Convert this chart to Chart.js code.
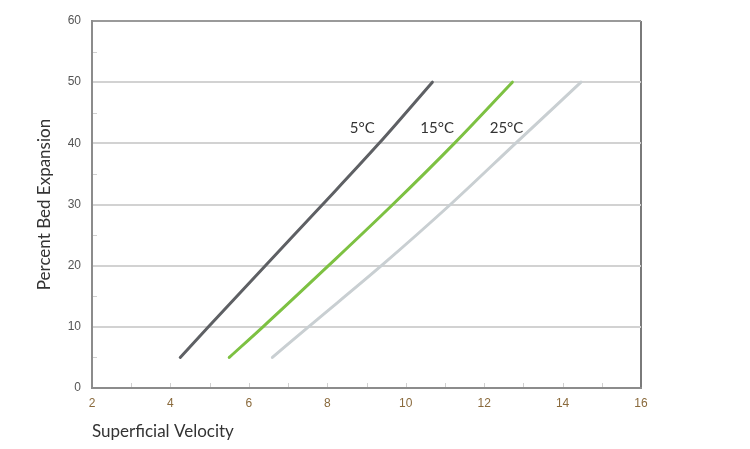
<!DOCTYPE html>
<html>
<head>
<meta charset="utf-8">
<script src="https://cdn.jsdelivr.net/npm/chart.js@4/dist/chart.umd.min.js"></script>
<style>
  html, body { margin: 0; padding: 0; background: #ffffff; }
  #c { display: block; }
</style>
</head>
<body>
<canvas id="c" width="750" height="449"></canvas>
<script>
// ---- Data ----
const expansion = [5, 10, 20, 30, 40, 50];          // Percent Bed Expansion (y)
const velocity5C  = [4.25, 4.97, 6.42, 7.88, 9.32, 10.68];
const velocity15C = [5.50, 6.36, 8.03, 9.67, 11.24, 12.72];
const velocity25C = [6.60, 7.52, 9.38, 11.14, 12.80, 14.47];
const seriesNames = ['5°C', '15°C', '25°C'];
const xTicks = [2, 4, 6, 8, 10, 12, 14, 16];
const yTicks = [0, 10, 20, 30, 40, 50, 60];
// label anchor positions in data units
const labelX = [8.89, 10.8, 12.57];
const labelY = [42.4, 42.4, 42.4];

function pts(xs) { return xs.map((x, i) => ({ x: x, y: expansion[i] })); }

const colors = ['#5e6064', '#7dc142', '#c9cfd2'];

const labelPlugin = {
  id: 'extras',
  afterDraw(chart) {
    const ctx = chart.ctx;
    const xs = chart.scales.x, ys = chart.scales.y;
    const area = chart.chartArea;
    ctx.save();
    // minor ticks
    ctx.strokeStyle = '#d0d0d0';
    ctx.lineWidth = 1;
    for (let v = 3; v < 16; v++) {
      const px = Math.round(xs.getPixelForValue(v)) + 0.5;
      ctx.beginPath();
      ctx.moveTo(px, area.bottom - 1);
      ctx.lineTo(px, area.bottom - 5);
      ctx.stroke();
    }
    for (let v = 5; v < 60; v += 10) {
      const py = Math.round(ys.getPixelForValue(v)) + 0.5;
      ctx.beginPath();
      ctx.moveTo(area.left + 1, py);
      ctx.lineTo(area.left + 5, py);
      ctx.stroke();
    }
    // series labels
    ctx.fillStyle = '#333333';
    ctx.font = '15px Lato, "Open Sans", sans-serif';
    ctx.textAlign = 'center';
    ctx.textBaseline = 'middle';
    seriesNames.forEach((n, i) => {
      ctx.fillText(n, xs.getPixelForValue(labelX[i]), ys.getPixelForValue(labelY[i]));
    });
    ctx.restore();
  }
};

new Chart(document.getElementById('c'), {
  type: 'line',
  data: {
    datasets: [
      { label: seriesNames[0], data: pts(velocity5C),  borderColor: colors[0] },
      { label: seriesNames[1], data: pts(velocity15C), borderColor: colors[1] },
      { label: seriesNames[2], data: pts(velocity25C), borderColor: colors[2] }
    ].map(d => Object.assign(d, { borderWidth: 3, pointRadius: 0, cubicInterpolationMode: 'monotone', fill: false, borderCapStyle: 'round' }))
  },
  options: {
    responsive: false,
    animation: false,
    layout: { padding: { left: 34, right: 109, top: 21, bottom: 7 } },
    plugins: { legend: { display: false }, tooltip: { enabled: false } },
    scales: {
      x: {
        type: 'linear',
        min: 2, max: 16,
        afterBuildTicks(s) { s.ticks = xTicks.map(v => ({ value: v })); },
        afterFit(s) { s.height = 54; },
        ticks: { color: '#8a6a3c', font: { family: '"Liberation Sans", Arial, sans-serif', size: 12 }, padding: 8 },
        grid: {
          drawTicks: false,
          color: (c) => c.tick && c.tick.value === 16 ? '#7a7a7a' : 'rgba(0,0,0,0)',
          lineWidth: 2
        },
        border: { color: '#8c8c8c', width: 2 },
        title: { display: true, text: 'Superficial Velocity', align: 'start', color: '#333333',
                 font: { family: 'Lato, "Open Sans", sans-serif', size: 17 }, padding: { top: 0, bottom: 0 } }
      },
      y: {
        type: 'linear',
        min: 0, max: 60,
        afterBuildTicks(s) { s.ticks = yTicks.map(v => ({ value: v })); },
        afterFit(s) { s.width = 92 - 34; },
        ticks: { color: '#555555', font: { family: '"Liberation Sans", Arial, sans-serif', size: 12 }, padding: 11 },
        grid: {
          drawTicks: false,
          color: (c) => {
            const v = c.tick && c.tick.value;
            if (v === 0) return 'rgba(0,0,0,0)';
            if (v === 60) return '#9a9a9a';
            return '#d2d2d2';
          },
          lineWidth: 2
        },
        border: { color: '#8c8c8c', width: 2 },
        title: { display: true, text: 'Percent Bed Expansion', color: '#333333',
                 font: { family: 'Lato, "Open Sans", sans-serif', size: 17 }, padding: { top: 0, bottom: 0 } }
      }
    }
  },
  plugins: [labelPlugin]
});
</script>
</body>
</html>
